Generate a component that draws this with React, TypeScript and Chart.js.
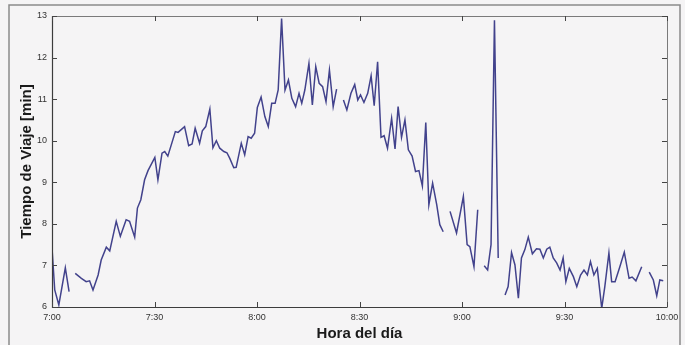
import React, { useEffect, useRef } from "react";
import { Chart, registerables } from "chart.js";

Chart.register(...registerables);

// Minutes after 7:00 at which each travel-time sample was taken (null value = no data)
const minutes: number[] = [
  0, 0.8, 2, 3.9, 5, 5.9,
  6.8, 8.6, 10, 11, 12, 13.5, 14.4, 15.9, 16.9, 18.8, 20, 21.7, 22.7, 24.2, 25, 26, 27.1, 28.1,
  30.1, 31, 32.2, 33, 33.9, 36.1, 36.9, 38.8, 40, 41, 41.9, 43.2, 44, 45, 46.2, 47.1, 48.1,
  49.1, 50.3, 51.2, 52, 53.2, 53.9, 55.4, 56.4, 57.4, 58.3, 59.3, 60.1, 61.2, 62.3, 63.3,
  64.3, 65.3, 66.2, 67.2, 68.2, 69.2, 70.2, 71.3, 72.3, 73.1, 74, 75.2, 76.2, 77.2, 78.2,
  79.2, 80.2, 81.2, 82.3, 83.3, 84.3,
  85.3, 86.3, 87.5, 88.6, 89.5, 90.3, 91.3, 92.4, 93.4, 94.3, 95.3, 96.3, 97.2, 98.2, 99.4,
  100.4, 101.3, 102.3, 103.3, 104.3, 105.4, 106.4, 107.4, 108.4, 109.4, 110.3, 111.4, 112.6,
  113.5, 114.5, 115.5,
  116.5, 118.4, 120.4, 121.5, 122.3, 123.5, 124.6, 125.5,
  126.5, 127.5, 128.5, 129.5, 130.6, 131.6,
  132.6, 133.5, 134.5, 135.5, 136.5, 137.4, 138.4, 139.4, 140.6, 141.8, 142.8, 143.8, 144.8,
  145.7, 146.7, 147.7, 148.7, 149.6, 150.4, 151.4, 152.6, 153.6, 154.7, 155.7, 156.7, 157.6,
  158.6, 159.6, 160.9, 161.8, 163, 163.8, 164.8, 166.2, 167.5, 168.9, 169.8, 170.9, 172.6, 173.7,
  174.8, 176, 177, 177.9, 178.9,
];

// Travel time in minutes
const travelTime: (number | null)[] = [
  7.42, 6.41, 6.05, 6.94, 6.37, null,
  6.81, 6.69, 6.61, 6.63, 6.41, 6.77, 7.13, 7.44, 7.35, 8.06, 7.7, 8.1, 8.06, 7.68, 8.38, 8.58, 9.06, 9.28,
  9.6, 9.06, 9.7, 9.74, 9.63, 10.22, 10.2, 10.34, 9.88, 9.92, 10.3, 9.94, 10.24, 10.34, 10.76, 9.83, 10.0,
  9.82, 9.74, 9.71, 9.58, 9.35, 9.36, 9.94, 9.66, 10.1, 10.06, 10.18, 10.8, 11.05, 10.58, 10.34,
  10.9, 10.9, 11.22, 12.94, 11.22, 11.46, 11.02, 10.82, 11.14, 10.9, 11.22, 11.86, 10.86, 11.78, 11.38,
  11.3, 10.94, 11.7, 10.82, 11.24, null,
  10.98, 10.74, 11.14, 11.35, 10.98, 11.1, 10.92, 11.14, 11.56, 10.84, 11.9, 10.08, 10.12, 9.82, 10.54,
  9.8, 10.82, 10.08, 10.5, 9.78, 9.63, 9.26, 9.28, 8.91, 10.44, 8.46, 8.98, 8.46,
  7.98, 7.81, null,
  8.3, 7.78, 8.66, 7.5, 7.45, 6.97, 8.34, null,
  6.99, 6.89, 7.5, 12.9, 7.18, null,
  6.29, 6.49, 7.31, 7.01, 6.21, 7.18, 7.38, 7.68, 7.28, 7.4, 7.39, 7.18, 7.39,
  7.44, 7.18, 7.06, 6.89, 7.18, 6.61, 6.93, 6.73, 6.49, 6.77, 6.89, 6.77, 7.09,
  6.77, 6.93, 5.97, 6.49, 7.3, 6.61, 6.61, 6.97, 7.32, 6.69, 6.72, 6.63, 6.97, null,
  6.84, 6.65, 6.27, 6.65, 6.63,
];

const xTickMinutes: number[] = [0, 30, 60, 90, 120, 150, 180];
const xTickLabels: string[] = ["7:00", "7:30", "8:00", "8:30", "9:00", "9:30", "10:00"];
const yTicks: number[] = [6, 7, 8, 9, 10, 11, 12, 13];

const FONT = "'Liberation Sans', Arial, Helvetica, sans-serif";

// Page background, outer frame, plot box and inward-pointing ticks on all four sides
const framePlugin = {
  id: "frame",
  beforeDraw(chart: any) {
    const { ctx, width, height } = chart;
    ctx.save();
    ctx.fillStyle = "#f5f4f5";
    ctx.fillRect(0, 0, width, height);
    ctx.strokeStyle = "#8a8a8a";
    ctx.lineWidth = 1.5;
    ctx.strokeRect(9, 5, 671, height + 10);
    ctx.restore();
  },
  afterDatasetsDraw(chart: any) {
    const { ctx, chartArea } = chart;
    const { left, right, top, bottom } = chartArea;
    const xs = chart.scales.x;
    const ys = chart.scales.y;
    ctx.save();
    ctx.lineWidth = 1;
    // top and right edges
    ctx.strokeStyle = "#7a7a7a";
    ctx.beginPath();
    ctx.moveTo(left, top + 0.5);
    ctx.lineTo(right + 0.5, top + 0.5);
    ctx.lineTo(right + 0.5, bottom);
    ctx.stroke();
    // left and bottom axes
    ctx.strokeStyle = "#3c3c3c";
    ctx.lineWidth = 1.2;
    ctx.beginPath();
    ctx.moveTo(left + 0.5, top);
    ctx.lineTo(left + 0.5, bottom + 0.5);
    ctx.lineTo(right + 0.5, bottom + 0.5);
    ctx.stroke();
    // ticks
    ctx.strokeStyle = "#444";
    ctx.lineWidth = 1;
    const tl = 5;
    ctx.beginPath();
    xTickMinutes.forEach((m) => {
      const px = Math.round(xs.getPixelForValue(m)) + 0.5;
      ctx.moveTo(px, bottom);
      ctx.lineTo(px, bottom - tl);
      ctx.moveTo(px, top);
      ctx.lineTo(px, top + tl);
    });
    yTicks.forEach((v) => {
      const py = Math.round(ys.getPixelForValue(v)) + 0.5;
      ctx.moveTo(left, py);
      ctx.lineTo(left + tl, py);
      ctx.moveTo(right, py);
      ctx.lineTo(right - tl, py);
    });
    ctx.stroke();
    ctx.restore();
  },
};

export default function App() {
  const canvasRef = useRef<HTMLCanvasElement | null>(null);

  useEffect(() => {
    if (!canvasRef.current) return;
    const points = minutes.map((m, i) => ({ x: m, y: travelTime[i] }));
    const chart = new Chart(canvasRef.current, {
      type: "line",
      data: {
        datasets: [
          {
            data: points as any,
            borderColor: "#42428c",
            borderWidth: 1.5,
            pointRadius: 0,
            tension: 0,
            spanGaps: false,
          },
        ],
      },
      options: {
        animation: false,
        responsive: false,
        devicePixelRatio: 1,
        layout: { padding: { left: 0, right: 18, top: 16, bottom: 0 } },
        plugins: { legend: { display: false }, tooltip: { enabled: false } },
        scales: {
          x: {
            type: "linear",
            min: 0,
            max: 180,
            grid: { display: false, drawTicks: false },
            border: { display: false },
            afterFit(scale: any) {
              scale.height = 38;
            },
            afterBuildTicks(scale: any) {
              scale.ticks = xTickMinutes.map((v) => ({ value: v }));
            },
            ticks: {
              autoSkip: false,
              maxRotation: 0,
              padding: 5,
              color: "#333",
              font: { family: FONT, size: 9 },
              callback: (v: any) => xTickLabels[xTickMinutes.indexOf(Number(v))] ?? "",
            },
            title: {
              display: true,
              text: "Hora del día",
              color: "#1a1a1a",
              font: { family: FONT, size: 15, weight: "bold" },
              padding: { top: 0, bottom: 2 },
            },
          },
          y: {
            min: 6,
            max: 13,
            grid: { display: false, drawTicks: false },
            border: { display: false },
            afterFit(scale: any) {
              scale.width = 52;
            },
            afterBuildTicks(scale: any) {
              scale.ticks = yTicks.map((v) => ({ value: v }));
            },
            ticks: {
              padding: 5,
              color: "#333",
              font: { family: FONT, size: 9 },
            },
            title: {
              display: true,
              text: "Tiempo de Viaje [min]",
              color: "#1a1a1a",
              font: { family: FONT, size: 15, weight: "bold" },
              padding: { top: 18, bottom: 0 },
            },
          },
        },
      },
      plugins: [framePlugin],
    });
    return () => chart.destroy();
  }, []);

  return (
    <div style={{ position: "absolute", left: 0, top: 0, width: 685, height: 345 }}>
      <canvas ref={canvasRef} width={685} height={345} />
    </div>
  );
}
